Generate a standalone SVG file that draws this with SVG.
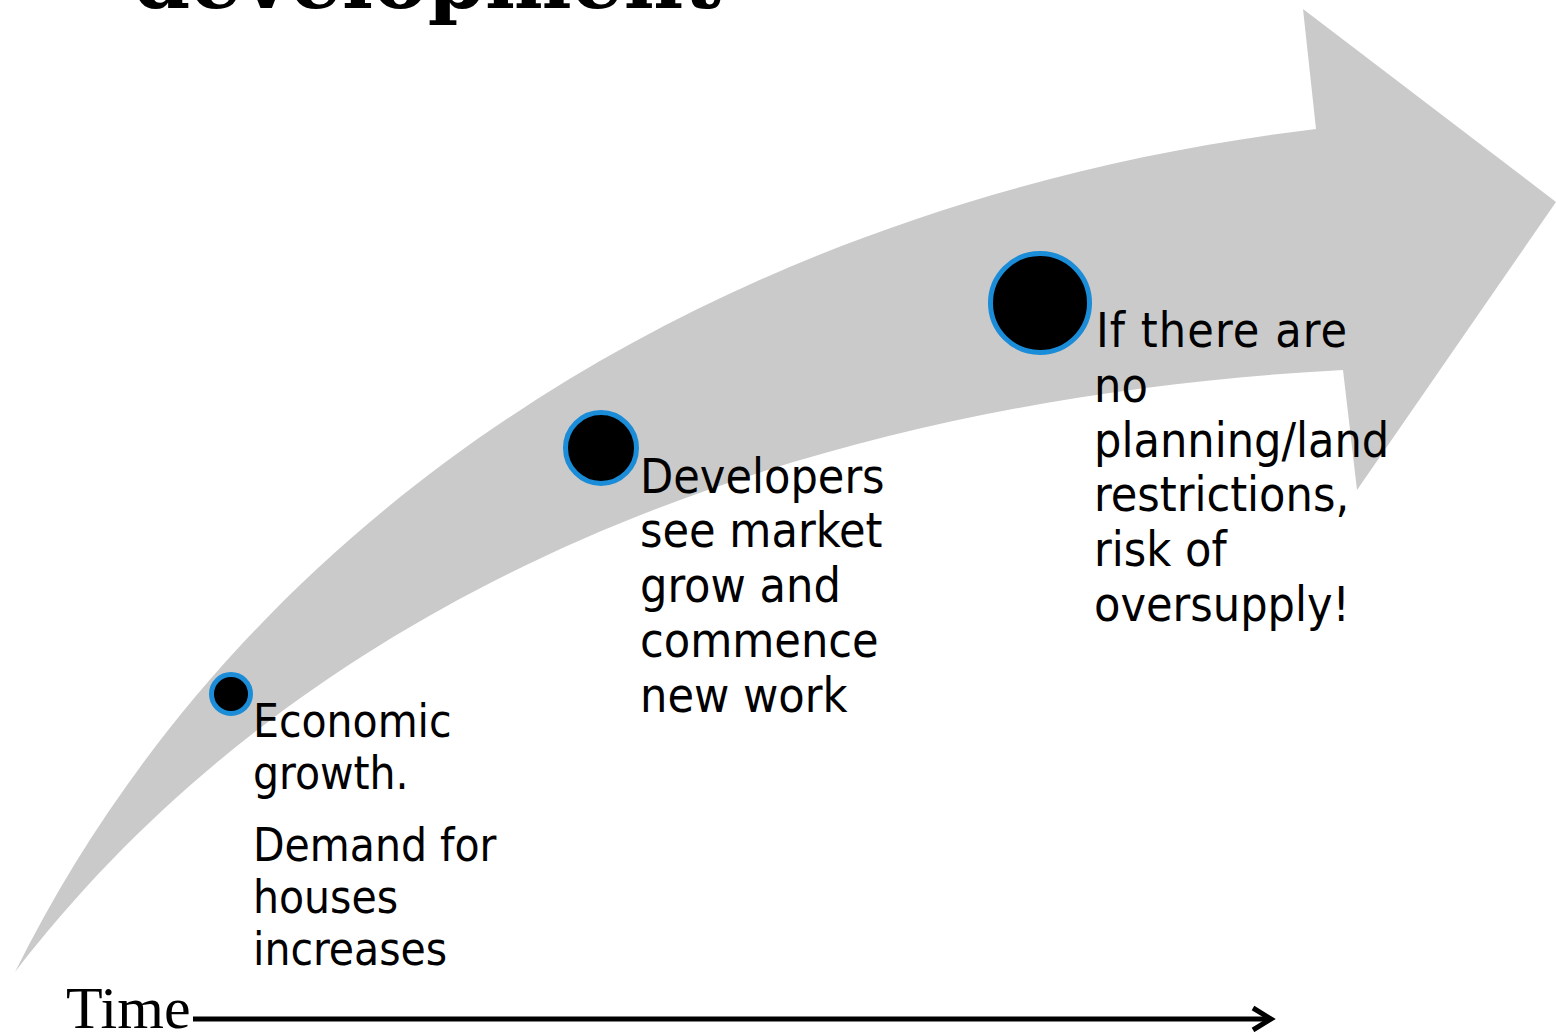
<svg xmlns="http://www.w3.org/2000/svg" width="1556" height="1032" viewBox="0 0 1556 1032">
  <defs>
    <style>
      .title { font-family: "DejaVu Serif", "Liberation Serif", serif; font-weight: 900; fill: #000; }
      .lbl { font-family: "DejaVu Sans Condensed", "DejaVu Sans", sans-serif; fill: #000; }
      .g1 { font-size: 45.6px; }
      .g2 { font-size: 48px; }
      .dot { fill: #000; stroke: #1a8cd8; stroke-width: 5; }
      .axis { fill: none; stroke: #000; stroke-width: 5; }
      .time { font-family: "Liberation Serif", "Times New Roman", serif; font-size: 60px; fill: #000; }
    </style>
  </defs>

  <rect width="1556" height="1032" fill="#ffffff"/>

  <!-- heading, mostly above the top edge -->
  <text class="title" x="133" y="8" font-size="82" textLength="588" lengthAdjust="spacingAndGlyphs">development</text>

  <!-- large curved grey arrow: curved body and triangular head -->
  <g id="growth-arrow">
    <path fill="#cacaca" d="M15,972
      C261,477 768,195 1316,129
      L1303,9 L1556,202 L1357,490 L1343,370
      C834,397 326,568 15,972 Z"/>
  </g>

  <g id="node-economic-growth">
    <circle class="dot" cx="231" cy="694" r="19.5"/>
    <text class="lbl g1" x="253" y="737">Economic</text>
    <text class="lbl g1" x="253" y="789">growth.</text>
    <text class="lbl g1" x="253" y="861">Demand for</text>
    <text class="lbl g1" x="253" y="913">houses</text>
    <text class="lbl g1" x="253" y="965">increases</text>
  </g>

  <g id="node-developers">
    <circle class="dot" cx="601" cy="448" r="35.5"/>
    <text class="lbl g2" x="640" y="493">Developers</text>
    <text class="lbl g2" x="640" y="547">see market</text>
    <text class="lbl g2" x="640" y="602">grow and</text>
    <text class="lbl g2" x="640" y="657">commence</text>
    <text class="lbl g2" x="640" y="712">new work</text>
  </g>

  <g id="node-oversupply">
    <circle class="dot" cx="1040" cy="303" r="49.5"/>
    <text class="lbl g2" x="1096" y="347" textLength="251" lengthAdjust="spacing">If there are</text>
    <text class="lbl g2" x="1094" y="402">no</text>
    <text class="lbl g2" x="1094" y="457">planning/land</text>
    <text class="lbl g2" x="1094" y="511">restrictions,</text>
    <text class="lbl g2" x="1094" y="566">risk of</text>
    <text class="lbl g2" x="1094" y="621">oversupply!</text>
  </g>

  <!-- time axis -->
  <g id="connectors">
    <text class="time" x="66" y="1028">Time</text>
    <line class="axis" x1="193" y1="1019" x2="1270" y2="1019"/>
    <polyline class="axis" points="1253,1008 1271,1019 1253,1030" stroke-linejoin="miter"/>
  </g>
</svg>
